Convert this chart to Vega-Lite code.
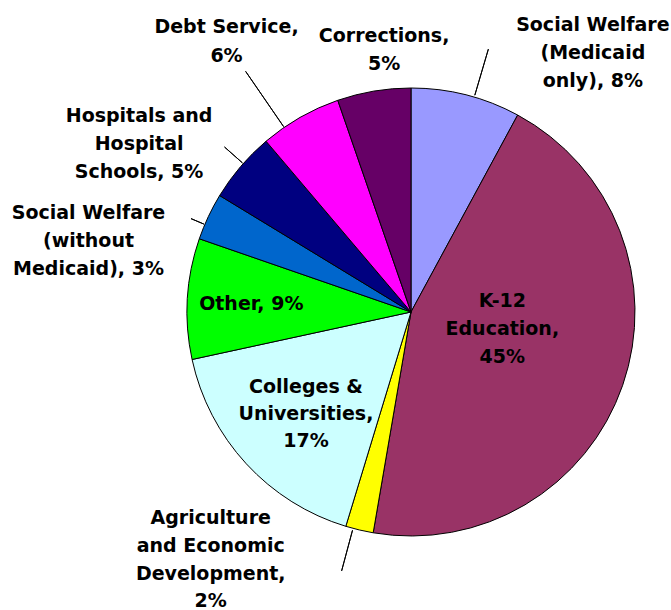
{
  "$schema": "https://vega.github.io/schema/vega-lite/v6.json",
  "width": 448,
  "height": 448,
  "autosize": "none",
  "padding": {"left": 187, "top": 88, "right": 36, "bottom": 74},
  "background": "white",
  "config": {"view": {"stroke": null}},
  "data": {
    "values": [
      {"k": 1, "cat": "Social Welfare (Medicaid only)", "value": 7.9, "label": "Social Welfare\n(Medicaid\nonly), 8%"},
      {"k": 2, "cat": "K-12 Education", "value": 44.8, "label": "K-12\nEducation,\n45%"},
      {"k": 3, "cat": "Agriculture and Economic Development", "value": 2.0, "label": "Agriculture\nand Economic\nDevelopment,\n2%"},
      {"k": 4, "cat": "Colleges & Universities", "value": 16.9, "label": "Colleges &\nUniversities,\n17%"},
      {"k": 5, "cat": "Other", "value": 8.7, "label": "Other, 9%"},
      {"k": 6, "cat": "Social Welfare (without Medicaid)", "value": 3.4, "label": "Social Welfare\n(without\nMedicaid), 3%"},
      {"k": 7, "cat": "Hospitals and Hospital Schools", "value": 5.1, "label": "Hospitals and\nHospital\nSchools, 5%"},
      {"k": 8, "cat": "Debt Service", "value": 5.9, "label": "Debt Service,\n6%"},
      {"k": 9, "cat": "Corrections", "value": 5.3, "label": "Corrections,\n5%"}
    ]
  },
  "encoding": {
    "theta": {"field": "value", "type": "quantitative", "stack": true, "scale": {"domain": [0, 100]}},
    "order": {"field": "k", "type": "quantitative"}
  },
  "layer": [
    {
      "mark": {"type": "arc", "radius": 224, "stroke": "black", "strokeWidth": 1},
      "encoding": {
        "color": {
          "field": "cat", "type": "nominal", "legend": null,
          "scale": {
            "domain": ["Social Welfare (Medicaid only)", "K-12 Education", "Agriculture and Economic Development", "Colleges & Universities", "Other", "Social Welfare (without Medicaid)", "Hospitals and Hospital Schools", "Debt Service", "Corrections"],
            "range": ["#9999FF", "#993366", "#FFFF00", "#CCFFFF", "#00FF00", "#0066CC", "#000080", "#FF00FF", "#660066"]
          }
        }
      }
    },
    {
      "transform": [
        {"window": [{"op": "sum", "field": "value", "as": "cum"}], "sort": [{"field": "k"}], "frame": [null, 0]},
        {"filter": "datum.k == 1"}
      ],
      "mark": {"type": "arc", "filled": false, "stroke": "black", "strokeWidth": 1, "radius": 274, "radius2": 226, "thetaOffset": -0.2101, "theta2Offset": -0.2101},
      "encoding": {
        "theta": {"field": "cum", "type": "quantitative", "scale": {"domain": [0, 100]}},
        "theta2": {"field": "cum"}
      }
    },
    {
      "transform": [
        {"window": [{"op": "sum", "field": "value", "as": "cum"}], "sort": [{"field": "k"}], "frame": [null, 0]},
        {"filter": "datum.k == 3"}
      ],
      "mark": {"type": "arc", "filled": false, "stroke": "black", "strokeWidth": 1, "radius": 268, "radius2": 226, "thetaOffset": -0.0335, "theta2Offset": -0.0335},
      "encoding": {
        "theta": {"field": "cum", "type": "quantitative", "scale": {"domain": [0, 100]}},
        "theta2": {"field": "cum"}
      }
    },
    {
      "transform": [
        {"window": [{"op": "sum", "field": "value", "as": "cum"}], "sort": [{"field": "k"}], "frame": [null, 0]},
        {"filter": "datum.k == 6"}
      ],
      "mark": {"type": "arc", "filled": false, "stroke": "black", "strokeWidth": 1, "radius": 239, "radius2": 225, "thetaOffset": -0.1452, "theta2Offset": -0.1452},
      "encoding": {
        "theta": {"field": "cum", "type": "quantitative", "scale": {"domain": [0, 100]}},
        "theta2": {"field": "cum"}
      }
    },
    {
      "transform": [
        {"window": [{"op": "sum", "field": "value", "as": "cum"}], "sort": [{"field": "k"}], "frame": [null, 0]},
        {"filter": "datum.k == 7"}
      ],
      "mark": {"type": "arc", "filled": false, "stroke": "black", "strokeWidth": 1, "radius": 249, "radius2": 225, "thetaOffset": -0.1428, "theta2Offset": -0.1428},
      "encoding": {
        "theta": {"field": "cum", "type": "quantitative", "scale": {"domain": [0, 100]}},
        "theta2": {"field": "cum"}
      }
    },
    {
      "transform": [
        {"window": [{"op": "sum", "field": "value", "as": "cum"}], "sort": [{"field": "k"}], "frame": [null, 0]},
        {"filter": "datum.k == 8"}
      ],
      "mark": {"type": "arc", "filled": false, "stroke": "black", "strokeWidth": 1, "radius": 292, "radius2": 225, "thetaOffset": -0.2691, "theta2Offset": -0.2691},
      "encoding": {
        "theta": {"field": "cum", "type": "quantitative", "scale": {"domain": [0, 100]}},
        "theta2": {"field": "cum"}
      }
    },
    {
      "mark": {"type": "text", "radius": 317, "dx": 104, "dy": 26, "align": "center", "baseline": "alphabetic", "lineBreak": "\n", "lineHeight": 28, "font": "DejaVu Sans", "fontWeight": "bold", "fontSize": 19, "color": "black"},
      "encoding": {"text": {"condition": {"test": "datum.k == 1", "field": "label"}, "value": ""}}
    },
    {
      "mark": {"type": "text", "radius": 85, "dx": 11, "dy": -33, "align": "center", "baseline": "alphabetic", "lineBreak": "\n", "lineHeight": 28, "font": "DejaVu Sans", "fontWeight": "bold", "fontSize": 19, "color": "black"},
      "encoding": {"text": {"condition": {"test": "datum.k == 2", "field": "label"}, "value": ""}}
    },
    {
      "mark": {"type": "text", "radius": 253, "dx": -142, "dy": -34, "align": "center", "baseline": "alphabetic", "lineBreak": "\n", "lineHeight": 27.7, "font": "DejaVu Sans", "fontWeight": "bold", "fontSize": 19, "color": "black"},
      "encoding": {"text": {"condition": {"test": "datum.k == 3", "field": "label"}, "value": ""}}
    },
    {
      "mark": {"type": "text", "radius": 132, "dx": -8, "dy": -8.5, "align": "center", "baseline": "alphabetic", "lineBreak": "\n", "lineHeight": 27, "font": "DejaVu Sans", "fontWeight": "bold", "fontSize": 19, "color": "black"},
      "encoding": {"text": {"condition": {"test": "datum.k == 4", "field": "label"}, "value": ""}}
    },
    {
      "mark": {"type": "text", "radius": 160, "dx": 0, "dy": 7.6, "align": "center", "baseline": "alphabetic", "lineBreak": "\n", "lineHeight": 28, "font": "DejaVu Sans", "fontWeight": "bold", "fontSize": 19, "color": "black"},
      "encoding": {"text": {"condition": {"test": "datum.k == 5", "field": "label"}, "value": ""}}
    },
    {
      "mark": {"type": "text", "radius": 331, "dx": -23, "dy": 48, "align": "center", "baseline": "alphabetic", "lineBreak": "\n", "lineHeight": 28, "font": "DejaVu Sans", "fontWeight": "bold", "fontSize": 19, "color": "black"},
      "encoding": {"text": {"condition": {"test": "datum.k == 6", "field": "label"}, "value": ""}}
    },
    {
      "mark": {"type": "text", "radius": 330, "dx": -21, "dy": 24, "align": "center", "baseline": "alphabetic", "lineBreak": "\n", "lineHeight": 28, "font": "DejaVu Sans", "fontWeight": "bold", "fontSize": 19, "color": "black"},
      "encoding": {"text": {"condition": {"test": "datum.k == 7", "field": "label"}, "value": ""}}
    },
    {
      "mark": {"type": "text", "radius": 334, "dx": -19, "dy": 11, "align": "center", "baseline": "alphabetic", "lineBreak": "\n", "lineHeight": 29, "font": "DejaVu Sans", "fontWeight": "bold", "fontSize": 19, "color": "black"},
      "encoding": {"text": {"condition": {"test": "datum.k == 8", "field": "label"}, "value": ""}}
    },
    {
      "mark": {"type": "text", "radius": 271, "dx": 18, "dy": -3, "align": "center", "baseline": "alphabetic", "lineBreak": "\n", "lineHeight": 28, "font": "DejaVu Sans", "fontWeight": "bold", "fontSize": 19, "color": "black"},
      "encoding": {"text": {"condition": {"test": "datum.k == 9", "field": "label"}, "value": ""}}
    }
  ]
}
